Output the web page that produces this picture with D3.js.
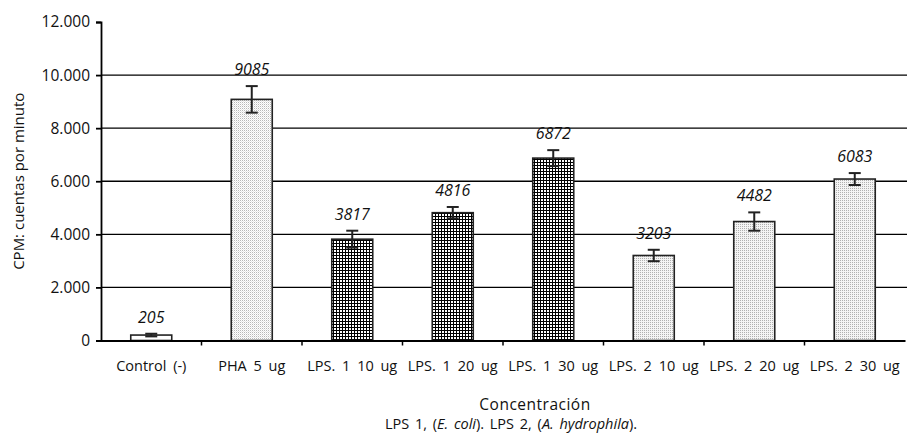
<!DOCTYPE html>
<html>
<head>
<meta charset="utf-8">
<script src="https://cdn.jsdelivr.net/npm/d3@7"></script>
<style>
  body { margin: 0; background: #fff; }
  svg { display: block; font-family: "Open Sans", sans-serif; }
</style>
</head>
<body>
<div id="chart"></div>
<script>
var categories = ["Control (-)", "PHA 5 ug", "LPS. 1 10 ug", "LPS. 1 20 ug", "LPS. 1 30 ug",
                  "LPS. 2 10 ug", "LPS. 2 20 ug", "LPS. 2 30 ug"];
var values = [205, 9085, 3817, 4816, 6872, 3203, 4482, 6083];
var errors = [50, 500, 320, 215, 300, 215, 345, 225];
var groups = ["control", "pha", "lps1", "lps1", "lps1", "lps2", "lps2", "lps2"];
var yTicks = [0, 2000, 4000, 6000, 8000, 10000, 12000];

var width = 907, height = 435;
var margin = { top: 22, right: 2, bottom: 94, left: 101 };

var svg = d3.select("#chart").append("svg")
  .attr("width", width)
  .attr("height", height);

// fill patterns
var defs = svg.append("defs");
var p1 = defs.append("pattern").attr("id", "pha").attr("patternUnits", "userSpaceOnUse")
  .attr("width", 2).attr("height", 2);
p1.append("rect").attr("width", 2).attr("height", 2).attr("fill", "#fff");
p1.append("rect").attr("width", 1).attr("height", 1).attr("fill", "#b8b8b8");
p1.append("rect").attr("x", 1).attr("y", 1).attr("width", 1).attr("height", 1).attr("fill", "#e6e6e6");

var p2 = defs.append("pattern").attr("id", "lps1").attr("patternUnits", "userSpaceOnUse")
  .attr("width", 3).attr("height", 3);
p2.append("rect").attr("width", 3).attr("height", 3).attr("fill", "#000");
p2.append("rect").attr("x", 1).attr("y", 1).attr("width", 2).attr("height", 2).attr("fill", "#fff");

var p3 = defs.append("pattern").attr("id", "lps2").attr("patternUnits", "userSpaceOnUse")
  .attr("width", 2).attr("height", 2);
p3.append("rect").attr("width", 2).attr("height", 2).attr("fill", "#f4f4f4");
p3.append("rect").attr("width", 1).attr("height", 1).attr("fill", "#b0b0b0");

var FILLS = { control: "#fff", pha: "url(#pha)", lps1: "url(#lps1)", lps2: "url(#lps2)" };

var x = d3.scaleBand()
  .domain(categories)
  .range([margin.left, width - margin.right]);

var y = d3.scaleLinear()
  .domain([0, 12000])
  .range([height - margin.bottom - 0.5, margin.top]);

var fmt = function (d) { return d3.format(",")(d).replace(/,/g, "."); };

// gridlines
svg.append("g")
  .selectAll("line")
  .data(yTicks.filter(function (d) { return d > 0 && d < 12000; }))
  .enter().append("line")
  .attr("x1", margin.left).attr("x2", width)
  .attr("y1", function (d) { return y(d); })
  .attr("y2", function (d) { return y(d); })
  .attr("stroke", "#000")
  .attr("stroke-width", 1.3);

// bars
var barW = 41;
svg.append("g")
  .selectAll("rect")
  .data(values)
  .enter().append("rect")
  .attr("x", function (d, i) { return x(categories[i]) + x.bandwidth() / 2 - barW / 2; })
  .attr("y", function (d) { return y(d); })
  .attr("width", barW)
  .attr("height", function (d) { return y(0) - y(d); })
  .attr("fill", function (d, i) { return FILLS[groups[i]]; })
  .attr("stroke", "#222")
  .attr("stroke-width", 1.6);

// error bars
var eb = svg.append("g").attr("stroke", "#222").attr("stroke-width", 2);
values.forEach(function (v, i) {
  var cx = x(categories[i]) + x.bandwidth() / 2;
  eb.append("line").attr("x1", cx).attr("x2", cx)
    .attr("y1", y(v + errors[i])).attr("y2", y(v - errors[i]));
  eb.append("line").attr("x1", cx - 6).attr("x2", cx + 6)
    .attr("y1", y(v + errors[i])).attr("y2", y(v + errors[i]));
  eb.append("line").attr("x1", cx - 6).attr("x2", cx + 6)
    .attr("y1", y(v - errors[i])).attr("y2", y(v - errors[i]));
});

// value labels
svg.append("g")
  .selectAll("text")
  .data(values)
  .enter().append("text")
  .attr("x", function (d, i) { return x(categories[i]) + x.bandwidth() / 2; })
  .attr("y", function (d, i) { return y(d + errors[i]) - 11; })
  .attr("text-anchor", "middle")
  .attr("font-style", "italic")
  .attr("font-size", 16)
  .attr("fill", "#111")
  .text(function (d) { return d; });

// axes
var yAxis = svg.append("g")
  .attr("transform", "translate(" + margin.left + ",0)")
  .call(d3.axisLeft(y).tickValues(yTicks).tickFormat(fmt).tickSize(5).tickPadding(6));
yAxis.selectAll("text").attr("font-size", 15.5).attr("fill", "#111").attr("font-family", "Open Sans");
yAxis.selectAll("line,path").attr("stroke", "#000").attr("stroke-width", 1.8);

var xAxis = svg.append("g")
  .attr("transform", "translate(0," + y(0) + ")")
  .call(d3.axisBottom(x).tickSize(0).tickPadding(20));
xAxis.select("path").attr("stroke", "#000").attr("stroke-width", 1.8);
xAxis.selectAll("text").attr("font-size", 14.5).attr("word-spacing", 3)
  .attr("fill", "#111").attr("font-family", "Open Sans");
xAxis.selectAll(".sep")
  .data(categories.slice(1))
  .enter().append("line")
  .attr("class", "sep")
  .attr("x1", function (d) { return x(d); })
  .attr("x2", function (d) { return x(d); })
  .attr("y1", 0).attr("y2", 5)
  .attr("stroke", "#000").attr("stroke-width", 1.5);

// axis titles
svg.append("text")
  .attr("transform", "translate(24," + ((margin.top + y(0)) / 2) + ") rotate(-90)")
  .attr("text-anchor", "middle")
  .attr("font-size", 15)
  .attr("fill", "#111")
  .text("CPM: cuentas por minuto");

svg.append("text")
  .attr("x", 535).attr("y", 410)
  .attr("text-anchor", "middle")
  .attr("font-size", 15.5)
  .attr("letter-spacing", 0.5)
  .attr("fill", "#111")
  .text("Concentración");

var sub = svg.append("text")
  .attr("x", 511).attr("y", 429)
  .attr("text-anchor", "middle")
  .attr("font-size", 14.5)
  .attr("word-spacing", 2)
  .attr("fill", "#111");
sub.append("tspan").text("LPS 1, (");
sub.append("tspan").attr("font-style", "italic").text("E. coli");
sub.append("tspan").text(").  LPS 2, (");
sub.append("tspan").attr("font-style", "italic").text("A. hydrophila");
sub.append("tspan").text(").");
</script>
</body>
</html>
